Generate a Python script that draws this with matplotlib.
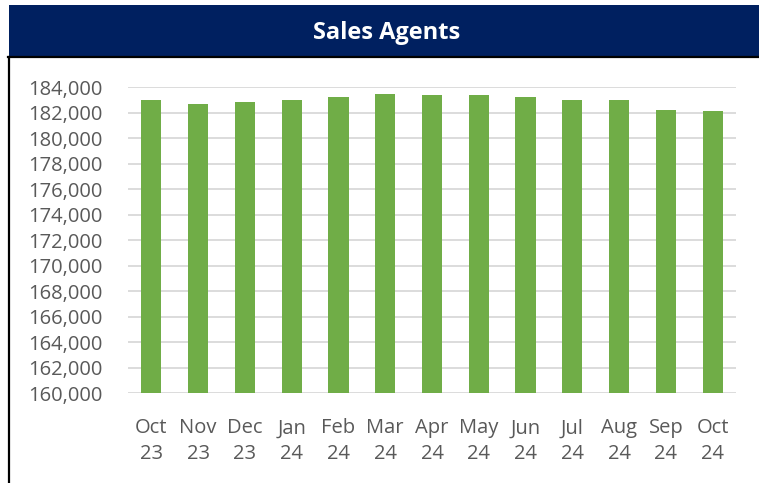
import matplotlib
matplotlib.use("Agg")
import matplotlib.pyplot as plt
from matplotlib.patches import Rectangle
from matplotlib.lines import Line2D
from matplotlib.ticker import FuncFormatter

months = ["Oct\n23", "Nov\n23", "Dec\n23", "Jan\n24", "Feb\n24", "Mar\n24", "Apr\n24",
          "May\n24", "Jun\n24", "Jul\n24", "Aug\n24", "Sep\n24", "Oct\n24"]
agents = [183000, 182690, 182820, 183000, 183260, 183450, 183370,
          183420, 183220, 183030, 183030, 182200, 182120]
title = "Sales Agents"

plt.rcParams['font.family'] = ['Open Sans', 'DejaVu Sans']

W, H = 759, 483
fig = plt.figure(figsize=(W / 100, H / 100), dpi=100)

# navy title band and black frame lines
fig.patches.append(Rectangle((9 / W, 1 - 56 / H), 1, 51 / H, transform=fig.transFigure,
                             facecolor="#002060", edgecolor="none"))
fig.lines.append(Line2D([8 / W, 1], [1 - 57 / H, 1 - 57 / H], transform=fig.transFigure,
                        color="black", lw=1.6))
fig.lines.append(Line2D([9 / W, 9 / W], [0, 1 - 57 / H], transform=fig.transFigure,
                        color="black", lw=1.6))
fig.text(387 / W, 1 - 33 / H, title, color="white", fontsize=17, fontweight="bold",
         ha="center", va="center")

ax = fig.add_axes([128 / W, 1 - 393.3 / H, (736 - 128) / W, (393.3 - 87.3) / H])
ax.bar(range(len(months)), agents, width=0.43, color="#70ad47", zorder=3)
ax.set_xlim(-0.5, len(months) - 0.5)
ax.set_ylim(160000, 184000)
ax.set_yticks(range(160000, 184001, 2000))
ax.yaxis.set_major_formatter(FuncFormatter(lambda v, p: f"{int(v):,}"))
ax.set_xticks(range(len(months)))
ax.set_xticklabels(months, linespacing=1.35)
ax.grid(axis="y", color="#d9d9d9", lw=1.3, zorder=0)
for s in ax.spines.values():
    s.set_visible(False)
ax.tick_params(axis="both", length=0, colors="#595959", labelsize=14.5)
ax.tick_params(axis="y", pad=18)
ax.tick_params(axis="x", pad=18)

fig.savefig("out.png", dpi=100)
